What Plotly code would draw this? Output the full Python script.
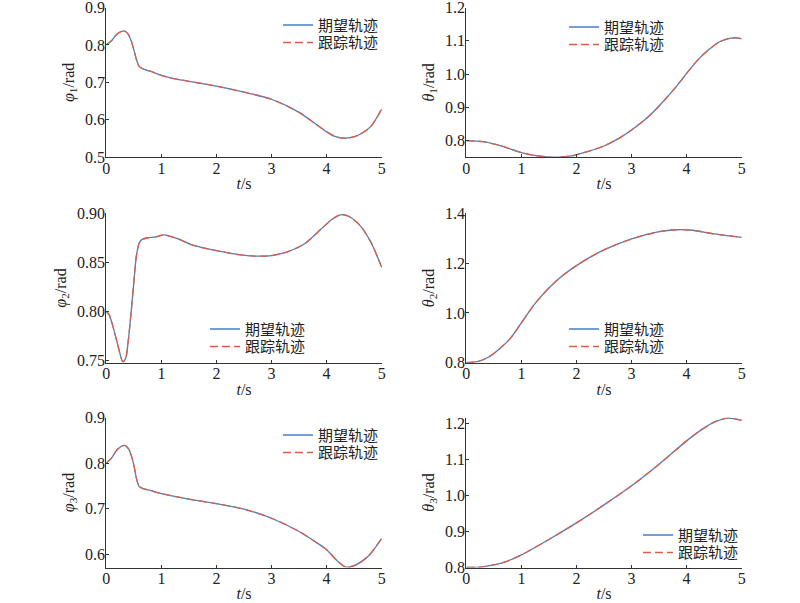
import plotly.graph_objects as go

# ---------------- data ----------------
t_phi1 = [0, 0.1, 0.2, 0.3, 0.35, 0.4, 0.45, 0.5, 0.55, 0.6, 0.7, 0.8, 1.0, 1.2, 1.5,
          2.0, 2.5, 3.0, 3.5, 3.8, 4.0, 4.15, 4.3, 4.45, 4.6, 4.8, 5.0]
phi1 = [0.800, 0.812, 0.830, 0.837, 0.836, 0.828, 0.812, 0.787, 0.760, 0.742, 0.734, 0.730,
        0.719, 0.711, 0.703, 0.690, 0.674, 0.655, 0.620, 0.589, 0.568, 0.556, 0.551, 0.553,
        0.561, 0.582, 0.629]

t_theta1 = [0, 0.3, 0.6, 1.0, 1.3, 1.6, 1.9, 2.2, 2.5, 2.8, 3.0, 3.3, 3.5, 3.8, 4.0, 4.2,
            4.4, 4.6, 4.8, 4.9, 5.0]
theta1 = [0.800, 0.797, 0.786, 0.764, 0.754, 0.750, 0.754, 0.767, 0.784, 0.810, 0.832, 0.871,
          0.904, 0.960, 1.002, 1.042, 1.073, 1.097, 1.108, 1.109, 1.106]

t_phi2 = [0, 0.05, 0.1, 0.2, 0.3, 0.35, 0.4, 0.45, 0.5, 0.55, 0.6, 0.65, 0.75, 0.9, 1.05,
          1.3, 1.6, 2.0, 2.4, 2.7, 3.0, 3.3, 3.6, 3.9, 4.1, 4.25, 4.4, 4.6, 4.8, 5.0]
phi2 = [0.800, 0.797, 0.789, 0.768, 0.749, 0.752, 0.771, 0.799, 0.830, 0.858, 0.870, 0.8735,
        0.875, 0.876, 0.878, 0.874, 0.867, 0.862, 0.858, 0.8565, 0.857, 0.861, 0.869, 0.884,
        0.894, 0.8985, 0.897, 0.888, 0.871, 0.845]

t_theta2 = [0, 0.2, 0.4, 0.6, 0.8, 1.0, 1.25, 1.5, 1.75, 2.0, 2.25, 2.5, 3.0, 3.5, 3.8,
            4.1, 4.5, 5.0]
theta2 = [0.800, 0.804, 0.822, 0.855, 0.898, 0.960, 1.038, 1.100, 1.150, 1.190, 1.224,
          1.253, 1.297, 1.326, 1.334, 1.332, 1.317, 1.303]

t_phi3 = [0, 0.1, 0.2, 0.33, 0.4, 0.45, 0.5, 0.55, 0.6, 0.7, 0.8, 1.0, 1.5, 2.0, 2.5, 3.0,
          3.5, 3.8, 4.0, 4.2, 4.35, 4.5, 4.75, 5.0]
phi3 = [0.800, 0.812, 0.830, 0.839, 0.832, 0.818, 0.796, 0.765, 0.748, 0.743, 0.740, 0.733,
        0.721, 0.711, 0.699, 0.679, 0.650, 0.627, 0.610, 0.585, 0.572, 0.575, 0.595, 0.635]

t_theta3 = [0, 0.25, 0.5, 0.75, 1.0, 1.5, 2.0, 2.5, 3.0, 3.5, 4.0, 4.3, 4.5, 4.75, 5.0]
theta3 = [0.800, 0.801, 0.807, 0.818, 0.835, 0.878, 0.924, 0.974, 1.027, 1.087, 1.152,
          1.186, 1.204, 1.215, 1.209]

x_ticks = [0, 1, 2, 3, 4, 5]
y_ticks_phi1 = [0.5, 0.6, 0.7, 0.8, 0.9]
y_ticks_theta1 = [0.8, 0.9, 1.0, 1.1, 1.2]
y_ticks_phi2 = [0.75, 0.80, 0.85, 0.90]
y_ticks_theta2 = [0.8, 1.0, 1.2, 1.4]
y_ticks_phi3 = [0.6, 0.7, 0.8, 0.9]
y_ticks_theta3 = [0.8, 0.9, 1.0, 1.1, 1.2]

legend_names = ["期望轨迹", "跟踪轨迹"]

# ---------------- layout helpers ----------------
W, H = 800, 603
BLUE = "#4a7ec6"
RED = "#dc5f45"
AX = "#333333"
SERIF = "Liberation Serif"
CJK = "Noto Sans CJK SC"
TXT = "#222222"

col_px = [(106.3, 381.7), (466.3, 741.7)]
row_px = [(7.5, 157.3), (213.3, 362.7), (417.5, 567.5)]

panels = [
    dict(t=t_phi1, y=phi1, rng=[0.5, 0.9], ticks=y_ticks_phi1, fmt=".1f",
         title="<i>φ</i><sub>1</sub>/rad", leg=(278, 25)),
    dict(t=t_theta1, y=theta1, rng=[0.75, 1.2], ticks=y_ticks_theta1, fmt=".1f",
         title="<i>θ</i><sub>1</sub>/rad", leg=(564, 27)),
    dict(t=t_phi2, y=phi2, rng=[0.748, 0.9], ticks=y_ticks_phi2, fmt=".2f",
         title="<i>φ</i><sub>2</sub>/rad", leg=(205, 329)),
    dict(t=t_theta2, y=theta2, rng=[0.8, 1.4], ticks=y_ticks_theta2, fmt=".1f",
         title="<i>θ</i><sub>2</sub>/rad", leg=(564, 329)),
    dict(t=t_phi3, y=phi3, rng=[0.571, 0.9], ticks=y_ticks_phi3, fmt=".1f",
         title="<i>φ</i><sub>3</sub>/rad", leg=(278, 435)),
    dict(t=t_theta3, y=theta3, rng=[0.8, 1.217], ticks=y_ticks_theta3, fmt=".1f",
         title="<i>θ</i><sub>3</sub>/rad", leg=(638, 535)),
]

fig = go.Figure()
layout = dict(
    width=W, height=H,
    margin=dict(l=0, r=0, t=0, b=0, autoexpand=False),
    paper_bgcolor="white", plot_bgcolor="white",
    showlegend=True,
)

ROW_GAP = 17.5
for i, p in enumerate(panels):
    r, c = divmod(i, 2)
    k = i + 1
    xa = "x" if k == 1 else f"x{k}"
    ya = "y" if k == 1 else f"y{k}"
    xkey = "xaxis" if k == 1 else f"xaxis{k}"
    ykey = "yaxis" if k == 1 else f"yaxis{k}"
    x0, x1 = col_px[c]
    y0, y1 = row_px[r]
    layout[xkey] = dict(
        domain=[x0 / W, x1 / W], anchor=ya, range=[0, 5], automargin=False,
        tickvals=x_ticks, ticks="inside", ticklen=3, tickwidth=1, tickcolor=AX,
        ticklabelstandoff=-4, ticklabeloverflow="allow",
        showline=True, linecolor=AX, linewidth=1, showgrid=False, zeroline=False,
        tickfont=dict(family=SERIF, size=16, color=TXT),
        title=dict(text="<i>t</i>/s", font=dict(family=SERIF, size=16, color=TXT),
                   standoff=2),
    )
    layout[ykey] = dict(
        domain=[1 - y1 / H, 1 - y0 / H], anchor=xa, range=p["rng"], automargin=False,
        tickvals=p["ticks"], tickformat=p["fmt"], ticks="inside", ticklen=3,
        tickwidth=1, tickcolor=AX, ticklabelstandoff=-3, ticklabeloverflow="allow",
        showline=True, linecolor=AX, linewidth=1, showgrid=False, zeroline=False,
        tickfont=dict(family=SERIF, size=16, color=TXT),
        title=dict(text=p["title"], font=dict(family=SERIF, size=16, color=TXT),
                   standoff=6),
    )
    lx, ly = p["leg"]
    for j, (name, color, dash) in enumerate([(legend_names[0], BLUE, "solid"),
                                              (legend_names[1], RED, "8px,4px")]):
        n = 2 * i + j + 1
        lkey = "legend" if n == 1 else f"legend{n}"
        fig.add_trace(go.Scatter(
            x=p["t"], y=p["y"], mode="lines", name=name,
            line=dict(color=color, width=1.3, dash=dash, shape="spline", smoothing=0.8),
            xaxis=xa, yaxis=ya, legend=lkey, hoverinfo="skip",
        ))
        top = ly + j * ROW_GAP - 16.25
        layout[lkey] = dict(
            x=lx / W, y=1 - top / H, xanchor="left", yanchor="top",
            bgcolor="rgba(0,0,0,0)", borderwidth=0,
            font=dict(family=CJK, size=15, color=TXT),
        )

fig.update_layout(**layout)
fig.write_html("out.html", config={"displayModeBar": False},
               post_script="document.body.style.margin='0';document.body.style.padding='0';")
